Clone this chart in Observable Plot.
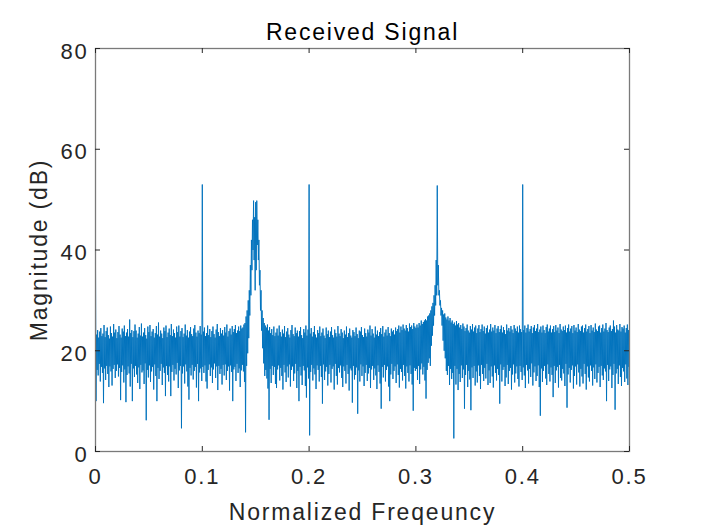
<!DOCTYPE html>
<html>
<head>
<meta charset="utf-8">
<script src="https://cdn.jsdelivr.net/npm/d3@7"></script>
<script src="https://cdn.jsdelivr.net/npm/@observablehq/plot@0.6"></script>
<style>
  html, body { margin: 0; padding: 0; background: white; }
</style>
</head>
<body>
<div id="chart"></div>
<script>
// Chart texts
const titleText = "Received Signal";
const xLabel = "Normalized Freqeuncy";
const yLabel = "Magnitude (dB)";

// Tick values
const xTicks = [0, 0.1, 0.2, 0.3, 0.4, 0.5];
const yTicks = [0, 20, 40, 60, 80];

// Frequency bin spacing of the envelope readings (normalized frequency)
const binWidth = 0.001;

// Upper envelope of the spectrum (dB) read at f = i * binWidth, i = 0..500
const upperEnv = [
  37.5, 23.2, 24.1, 22.6, 23.8, 24.5, 22.9, 23.4, 25.1, 22.7,
  23.9, 24.6, 23.1, 22.4, 24.8, 23.5, 22.8, 25.3, 23.6, 24.2,
  22.5, 23.7, 24.9, 23.2, 22.6, 24.4, 23.8, 25.0, 22.9, 23.6,
  24.3, 22.8, 26.2, 23.5, 24.1, 22.7, 23.9, 25.2, 24.0, 22.6,
  23.4, 24.7, 23.0, 25.4, 22.8, 23.6, 24.5, 23.1, 22.4, 24.8,
  23.7, 25.1, 22.9, 23.8, 24.3, 22.6, 23.5, 24.9, 23.2, 25.6,
  22.8, 24.0, 23.4, 22.5, 24.6, 23.9, 25.0, 22.7, 23.6, 24.4,
  23.1, 25.3, 22.9, 24.2, 23.5, 22.6, 24.8, 23.7, 25.0, 22.8,
  23.9, 24.5, 22.7, 23.4, 25.2, 23.0, 24.1, 22.6, 23.8, 24.7,
  23.3, 22.9, 24.4, 25.1, 23.6, 22.8, 24.0, 23.5, 24.9, 23.2,
  53.0, 23.8, 24.6, 22.9, 23.5, 25.0, 23.1, 24.3, 22.7, 23.9,
  24.8, 23.3, 22.6, 24.2, 25.3, 23.7, 22.9, 24.5, 23.4, 24.1,
  23.0, 24.7, 23.6, 25.2, 22.8, 23.9, 24.4, 23.2, 24.9, 23.7,
  24.3, 25.1, 23.5, 24.0, 24.8, 23.9, 25.0, 24.4, 24.6, 25.2,
  25.5, 26.8, 28.0, 30.0, 32.0, 37.0, 42.0, 46.0, 49.8, 46.5,
  49.5, 49.8, 46.0, 42.0, 36.0, 32.0, 28.0, 26.5, 25.5, 25.0,
  24.6, 25.2, 24.0, 24.7, 23.5, 24.3, 23.1, 24.8, 22.9, 23.6,
  24.4, 23.0, 25.0, 23.7, 22.8, 24.2, 23.4, 24.9, 22.7, 23.8,
  24.5, 23.2, 22.6, 24.1, 25.1, 23.3, 22.9, 24.6, 23.5, 24.0,
  22.8, 23.9, 24.7, 23.1, 22.5, 24.3, 23.6, 25.0, 23.0, 24.2,
  53.0, 23.4, 24.5, 22.8, 23.7, 24.9, 23.2, 22.6, 24.1, 23.5,
  24.8, 22.9, 23.6, 24.4, 23.0, 22.5, 24.6, 23.3, 24.0, 22.7,
  23.8, 24.7, 23.1, 22.6, 24.2, 23.5, 22.8, 24.9, 23.4, 22.9,
  24.3, 23.6, 22.5, 24.0, 23.2, 24.8, 22.7, 23.5, 24.4, 23.0,
  22.6, 24.1, 23.7, 22.9, 24.6, 23.3, 22.5, 24.0, 23.8, 24.7,
  23.1, 22.7, 24.4, 23.5, 22.8, 24.2, 23.6, 25.0, 23.0, 24.3,
  23.4, 22.6, 24.8, 23.2, 24.0, 22.9, 23.7, 24.5, 23.3, 24.9,
  22.8, 23.6, 24.2, 23.0, 24.7, 23.5, 22.9, 24.4, 23.8, 24.1,
  23.2, 24.6, 23.9, 24.3, 25.0, 23.6, 24.8, 24.1, 25.2, 24.4,
  24.0, 25.1, 24.5, 23.8, 25.4, 24.7, 25.0, 24.3, 25.5, 24.8,
  24.5, 25.2, 24.6, 25.5, 25.0, 26.0, 25.3, 25.7, 26.0, 26.3,
  26.0, 26.8, 27.0, 27.4, 28.0, 28.8, 29.5, 31.0, 33.0, 38.0,
  52.8, 37.0, 32.0, 30.0, 28.5, 28.0, 27.2, 27.4, 26.6, 26.2,
  26.8, 26.0, 26.5, 25.6, 26.0, 25.3, 25.6, 25.0, 25.9, 25.2,
  25.5, 24.6, 25.1, 24.3, 25.4, 24.8, 23.9, 24.5, 25.2, 24.0,
  23.6, 24.9, 24.2, 25.3, 23.8, 24.6, 25.0, 23.5, 24.4, 25.1,
  23.7, 24.3, 25.2, 23.9, 24.8, 23.4, 24.5, 25.0, 23.6, 24.2,
  25.3, 23.8, 24.6, 24.0, 25.1, 23.5, 24.4, 24.9, 23.7, 24.3,
  25.0, 23.6, 24.7, 24.1, 23.3, 25.2, 24.0, 24.5, 23.8, 24.9,
  24.2, 23.5, 25.1, 24.4, 23.9, 24.8, 23.6, 25.0, 24.3, 23.7,
  53.0, 24.1, 25.0, 23.6, 24.5, 25.2, 23.8, 24.3, 24.9, 23.5,
  24.6, 25.1, 23.9, 24.4, 25.3, 23.7, 24.2, 24.8, 23.6, 25.0,
  24.1, 23.5, 24.7, 25.2, 23.8, 24.4, 25.0, 23.6, 24.3, 24.9,
  23.7, 25.1, 24.0, 24.6, 23.5, 25.3, 24.2, 23.9, 24.8, 24.1,
  25.0, 23.6, 24.5, 25.2, 23.8, 24.4, 24.9, 23.5, 25.1, 24.0,
  24.6, 23.7, 25.3, 24.2, 23.9, 24.8, 25.0, 23.6, 24.5, 25.2,
  23.8, 24.3, 24.9, 23.5, 25.1, 24.0, 24.6, 23.7, 25.4, 24.2,
  23.9, 24.8, 25.0, 23.6, 24.5, 25.2, 23.8, 24.4, 25.5, 24.1,
  23.7, 24.6, 25.0, 23.9, 24.3, 26.0, 24.8, 23.6, 25.1, 24.2,
  24.0, 25.3, 23.8, 24.7, 24.4, 25.0, 23.6, 24.5, 25.2, 24.1,
  24.6
];

// Lower envelope of the spectrum (dB) read at f = (i + 0.5) * binWidth, i = 0..499
const lowerEnv = [
  10.0, 16.2, 15.1, 17.4, 13.9, 16.8, 15.6, 9.6, 16.5, 14.2,
  17.0, 15.4, 12.8, 16.9, 15.9, 13.1, 16.4, 17.2, 14.6, 16.0,
  17.3, 14.9, 16.6, 10.2, 15.8, 17.1, 13.7, 16.3, 9.8, 15.2,
  16.9, 15.5, 12.9, 17.4, 10.0, 16.5, 14.8, 17.0, 15.3, 13.6,
  16.7, 12.4, 17.2, 15.7, 16.1, 13.4, 17.5, 6.2, 16.2, 14.7,
  17.1, 13.8, 15.9, 16.8, 12.3, 17.3, 15.0, 10.0, 16.6, 14.4,
  16.0, 17.4, 13.2, 16.7, 15.6, 11.0, 17.0, 15.2, 13.9, 16.9,
  11.0, 15.8, 17.2, 14.1, 16.4, 15.3, 17.6, 12.6, 16.1, 17.0,
  4.6, 15.5, 16.9, 13.5, 17.3, 15.9, 12.9, 10.3, 16.6, 15.1,
  17.2, 14.3, 16.0, 16.8, 12.7, 17.4, 10.0, 15.7, 16.5, 14.0,
  16.8, 15.6, 17.1, 13.9, 12.5, 16.2, 17.3, 15.0, 16.7, 13.6,
  16.3, 17.5, 14.6, 16.9, 12.2, 17.0, 15.4, 16.4, 13.3, 17.2,
  15.1, 17.3, 14.2, 16.0, 16.9, 12.1, 17.1, 15.8, 10.0, 16.3,
  16.8, 14.0, 17.4, 15.6, 16.5, 12.8, 16.1, 17.2, 15.9, 13.8,
  3.8, 17.0, 19.5, 22.5, 27.0, 31.0, 36.0, 40.0, 38.0, 32.0,
  36.0, 41.0, 38.0, 33.0, 28.0, 24.0, 20.5, 17.5, 15.0, 16.2,
  14.5, 12.5, 6.3, 16.4, 13.6, 17.0, 15.2, 16.8, 13.4, 12.6,
  16.3, 17.1, 14.1, 16.6, 15.0, 12.3, 17.2, 15.7, 13.8, 16.9,
  14.7, 17.3, 12.9, 16.2, 16.9, 14.0, 15.5, 17.4, 12.6, 16.0,
  10.0, 16.8, 15.1, 13.2, 17.0, 16.1, 13.0, 10.7, 16.7, 14.5,
  3.2, 15.8, 17.2, 14.1, 16.5, 15.3, 12.4, 17.1, 16.2, 13.9,
  17.0, 14.8, 9.5, 17.3, 14.2, 15.9, 16.8, 13.1, 15.4, 17.2,
  13.7, 16.4, 16.9, 12.3, 17.4, 15.0, 13.3, 16.6, 15.7, 17.1,
  14.6, 12.8, 16.9, 16.0, 13.5, 17.2, 15.4, 12.1, 16.5, 16.1,
  9.7, 17.0, 14.3, 15.2, 16.7, 7.5, 16.1, 13.9, 17.3, 15.0,
  16.9, 13.0, 15.6, 17.2, 14.0, 15.5, 16.6, 12.6, 16.3, 17.0,
  14.2, 16.5, 15.1, 12.4, 17.1, 15.8, 13.5, 8.5, 16.8, 14.7,
  17.2, 13.9, 16.2, 16.9, 12.9, 10.0, 15.3, 17.4, 14.4, 16.0,
  16.9, 13.6, 17.3, 15.2, 12.7, 16.4, 15.8, 14.1, 17.2, 15.0,
  12.5, 16.9, 15.6, 13.9, 17.1, 15.4, 13.3, 8.1, 16.6, 16.0,
  16.4, 14.2, 17.0, 13.4, 16.3, 17.5, 15.3, 16.8, 14.1, 10.5,
  16.2, 17.6, 18.5, 17.0, 21.0, 23.0, 25.0, 27.0, 29.0, 31.0,
  33.0, 31.0, 29.0, 27.0, 25.0, 22.0, 20.0, 18.5, 16.0, 15.2,
  17.0, 13.2, 16.4, 14.4, 15.6, 2.6, 17.0, 13.3, 16.4, 12.2,
  15.4, 13.8, 17.1, 14.6, 16.3, 8.5, 15.2, 17.2, 12.8, 16.0,
  14.3, 8.2, 16.7, 14.6, 17.0, 13.1, 15.9, 13.7, 17.1, 15.0,
  12.4, 17.2, 15.4, 14.0, 16.6, 14.5, 17.4, 13.2, 16.1, 13.6,
  16.9, 14.9, 12.7, 17.1, 15.6, 14.1, 16.4, 15.2, 9.5, 17.3,
  13.9, 16.2, 16.8, 13.0, 14.7, 17.2, 13.4, 16.0, 16.6, 12.3,
  15.3, 17.3, 13.7, 15.5, 16.9, 14.4, 12.9, 17.0, 15.8, 14.2,
  16.7, 15.1, 12.6, 17.2, 16.1, 13.5, 16.4, 14.8, 17.5, 13.1,
  15.7, 16.9, 14.0, 15.0, 17.1, 12.8, 7.1, 16.5, 13.8, 16.0,
  17.0, 14.5, 13.2, 17.3, 15.4, 13.9, 16.7, 15.2, 10.8, 17.0,
  13.6, 16.1, 16.8, 12.7, 17.2, 14.6, 14.1, 16.4, 15.5, 13.0,
  17.4, 8.7, 15.3, 16.6, 13.7, 16.2, 17.1, 12.5, 15.0, 16.9,
  13.3, 17.3, 15.7, 12.9, 16.4, 14.9, 13.5, 17.4, 15.4, 12.3,
  16.9, 14.7, 13.9, 17.1, 16.0, 13.1, 16.7, 14.4, 17.3, 13.7,
  15.6, 16.8, 12.8, 17.0, 15.1, 14.2, 16.5, 15.9, 10.0, 17.2,
  14.0, 16.3, 16.9, 12.6, 15.2, 17.4, 8.3, 15.5, 16.4, 13.4,
  17.1, 14.8, 13.0, 16.6, 15.9, 13.8, 17.3, 14.5, 13.2, 16.8
];

// Build the trace: alternate upper / lower readings along frequency
const spectrum = [];
for (let i = 0; i < upperEnv.length; i++) {
  spectrum.push({f: i * binWidth, db: upperEnv[i]});
  if (i < lowerEnv.length) spectrum.push({f: (i + 0.5) * binWidth, db: lowerEnv[i]});
}

const W = 712, H = 532;
const mL = 95, mR = 83, mT = 48, mB = 81;
const fw = W - mL - mR, fh = H - mT - mB;
const tickLen = 5;
const axisColor = "#262626";

const chart = Plot.plot({
  width: W,
  height: H,
  marginLeft: mL,
  marginRight: mR,
  marginTop: mT,
  marginBottom: mB,
  style: {
    fontFamily: "'Liberation Sans', Arial, Helvetica, sans-serif",
    fontSize: "22px",
    letterSpacing: "1.8px",
    color: axisColor,
    background: "white"
  },
  x: {domain: [0, 0.5]},
  y: {domain: [0, 80]},
  marks: [
    Plot.line(spectrum, {x: "f", y: "db", stroke: "#0072BD", strokeWidth: 0.95}),
    Plot.frame({stroke: "#7a7a7a", strokeWidth: 1.3}),
    // inward ticks (bottom, top, left, right)
    Plot.ruleX(xTicks, {x: d => d, insetTop: fh - tickLen, stroke: axisColor}),
    Plot.ruleX(xTicks, {x: d => d, insetBottom: fh - tickLen, stroke: axisColor}),
    Plot.ruleY(yTicks, {y: d => d, insetRight: fw - tickLen, stroke: axisColor}),
    Plot.ruleY(yTicks, {y: d => d, insetLeft: fw - tickLen, stroke: axisColor}),
    Plot.axisX(xTicks, {tickSize: 0, tickPadding: 17, tickFormat: d => String(d), label: null, fontSize: 22}),
    Plot.axisY(yTicks, {tickSize: 0, tickPadding: 7, dy: 3, tickFormat: d => String(d), label: null, fontSize: 22}),
    Plot.text([titleText], {frameAnchor: "top", lineAnchor: "bottom", dy: -9, fontSize: 23, fill: "black"}),
    Plot.text([xLabel], {frameAnchor: "bottom", lineAnchor: "bottom", dy: 68, fontSize: 23, fill: axisColor}),
    Plot.text([yLabel], {frameAnchor: "left", textAnchor: "middle", lineAnchor: "bottom", rotate: -90, dx: -48.5, fontSize: 23, fill: axisColor})
  ]
});
document.getElementById("chart").appendChild(chart);
</script>
</body>
</html>
